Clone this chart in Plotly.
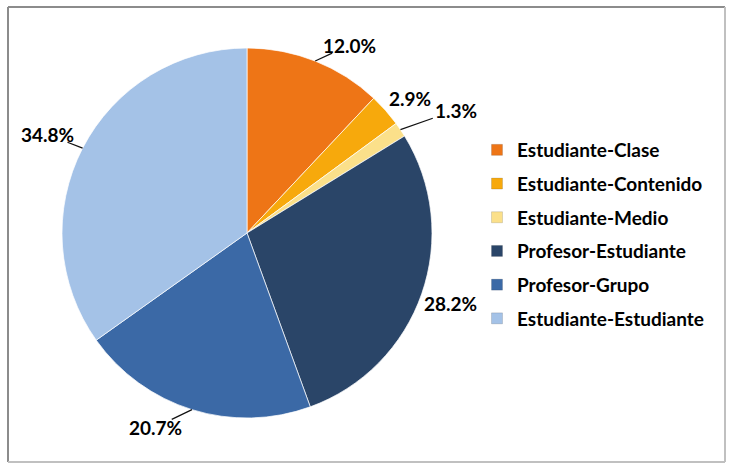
import math
import plotly.graph_objects as go

categories = ["Estudiante-Clase", "Estudiante-Contenido", "Estudiante-Medio",
              "Profesor-Estudiante", "Profesor-Grupo", "Estudiante-Estudiante"]
values = [12.0, 2.9, 1.3, 28.2, 20.7, 34.8]
colors = ["#EE7516", "#F7A90C", "#FBE08A", "#2A4568", "#3B69A6", "#A4C2E7"]

# label placement style (angle nudge in degrees, distance in px, leader line)
label_nudge = [7, 2, 3.5, 0, 8, -1]
label_dist = [214, 211, 242, 216, 215, 223]
label_leader = [True, False, True, False, True, True]

W, H = 730, 468
cx, cy, r = 247, 233, 185
FONT = "Lato"
FS = 19

fig = go.Figure(go.Pie(
    labels=categories,
    values=values,
    sort=False,
    direction="clockwise",
    rotation=0,
    marker=dict(colors=colors, line=dict(color="rgba(255,255,255,0.7)", width=1)),
    textinfo="none",
    domain=dict(x=[(cx - r) / W, (cx + r) / W], y=[1 - (cy + r) / H, 1 - (cy - r) / H]),
    showlegend=False,
    hoverinfo="label+percent",
))

# legend entries
for i, (cat, col) in enumerate(zip(categories, colors)):
    fig.add_trace(go.Scatter(
        x=[None], y=[None], mode="markers", name=cat,
        marker=dict(symbol="square", size=11, color=col,
                    line=dict(color="rgba(0,0,0,0.25)", width=0.5)),
        legendgroup=f"g{i}", showlegend=True, hoverinfo="skip",
    ))

# percentage labels from data
total = sum(values)
cum = 0.0
for v, nudge, dist, leader in zip(values, label_nudge, label_dist, label_leader):
    mid = (cum + v / 2) / total * 360.0
    cum += v
    th = math.radians(mid)
    hx, hy = cx + r * math.sin(th), cy - r * math.cos(th)
    tl = math.radians(mid + nudge)
    tx, ty = cx + dist * math.sin(tl), cy - dist * math.cos(tl)
    txt = f"{v:.1f}%"
    fig.add_annotation(x=tx / W, y=1 - ty / H, xref="paper", yref="paper",
                       text=txt, showarrow=False, borderpad=0,
                       xanchor="center", yanchor="middle",
                       font=dict(family=FONT, size=FS, color="black", weight="bold"))
    if leader:
        hw, hh = 27, 8
        dx, dy = hx - tx, hy - ty
        t = min(hw / abs(dx) if dx else 1e9, hh / abs(dy) if dy else 1e9)
        sx, sy = tx + t * dx, ty + t * dy
        fig.add_shape(type="line", xref="paper", yref="paper",
                      x0=sx / W, y0=1 - sy / H, x1=hx / W, y1=1 - hy / H,
                      line=dict(color="#111111", width=1.2))

# chart border: darker top/left, lighter bottom/right
bx0, bx1, by0, by1 = 8, 725, 7, 462
for (x0, y0, x1, y1, c) in [(bx0, by0, bx1, by0, "#8C8C8C"), (bx0, by0, bx0, by1, "#8C8C8C"),
                            (bx0, by1, bx1, by1, "#C0C0C0"), (bx1, by0, bx1, by1, "#C0C0C0")]:
    fig.add_shape(type="line", xref="paper", yref="paper",
                  x0=x0 / W, x1=x1 / W, y0=1 - y0 / H, y1=1 - y1 / H,
                  line=dict(color=c, width=2))

fig.update_layout(
    width=W, height=H,
    margin=dict(l=0, r=0, t=0, b=0),
    paper_bgcolor="white",
    plot_bgcolor="white",
    xaxis=dict(visible=False),
    yaxis=dict(visible=False),
    legend=dict(x=477 / W, y=1 - 131 / H, xanchor="left", yanchor="top",
                font=dict(family=FONT, size=FS, color="black", weight="bold"),
                tracegroupgap=6, itemwidth=30, traceorder="grouped",
                bgcolor="rgba(0,0,0,0)"),
)

fig.write_html("out.html")
